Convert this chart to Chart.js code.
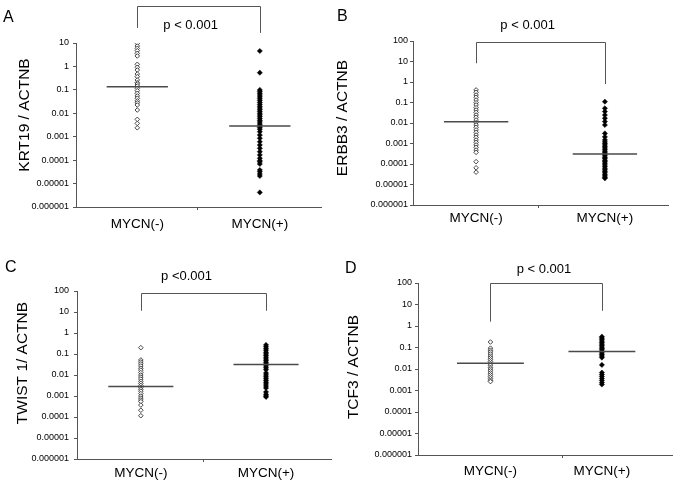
<!DOCTYPE html>
<html>
<head>
<meta charset="utf-8">
<script src="https://cdn.jsdelivr.net/npm/chart.js@4.4.0/dist/chart.umd.min.js"></script>
<style>
  body { margin: 0; background: #fff; width: 677px; height: 490px; position: relative; overflow: hidden; }
  canvas { position: absolute; }
</style>
</head>
<body>
<canvas id="panelA" width="326" height="245" style="left:0;top:0"></canvas>
<canvas id="panelB" width="351" height="245" style="left:326px;top:0"></canvas>
<canvas id="panelC" width="336" height="245" style="left:0;top:245px"></canvas>
<canvas id="panelD" width="341" height="245" style="left:336px;top:245px"></canvas>
<script>
const categories = ['MYCN(-)', 'MYCN(+)'];
const panelLetters = ['A', 'B', 'C', 'D'];
const yTitles = ['KRT19 / ACTNB', 'ERBB3 / ACTNB', 'TWIST 1/ ACTNB', 'TCF3 / ACTNB'];
const pLabels = ['p < 0.001', 'p < 0.001', 'p <0.001', 'p < 0.001'];

const yTicksTo10 = [0.000001, 0.00001, 0.0001, 0.001, 0.01, 0.1, 1, 10];
const yTicksTo100 = [0.000001, 0.00001, 0.0001, 0.001, 0.01, 0.1, 1, 10, 100];
const yTickLabels = ['0.000001', '0.00001', '0.0001', '0.001', '0.01', '0.1', '1', '10', '100'];

// KRT19 / ACTNB
const krt19Neg = [9.7, 7.4, 5.9, 4.7, 3.6, 2.8, 1.23, 0.92, 0.70, 0.475, 0.365, 0.264, 0.202, 0.178,
  0.146, 0.117, 0.092, 0.071, 0.055, 0.044, 0.034, 0.028, 0.0226, 0.0138, 0.0055, 0.0037, 0.0024];
const krt19Pos = [4.56, 0.54, 0.099, 0.085, 0.072, 0.06, 0.05, 0.042, 0.035, 0.029, 0.024, 0.02, 0.017,
  0.014, 0.012, 0.01, 0.0085, 0.0072, 0.006, 0.005, 0.0042, 0.0035, 0.003, 0.0025, 0.0021, 0.00164,
  0.00118, 0.00086, 0.00061, 0.00044, 0.00032, 0.00023, 0.000166, 0.00012, 0.000095, 0.000085,
  0.0000685, 0.000038, 0.000032, 0.0000256, 0.000021, 0.0000042];
const krt19Median = [0.135, 0.0029];

// ERBB3 / ACTNB
const erbb3Neg = [0.41, 0.315, 0.232, 0.18, 0.132, 0.098, 0.076, 0.056, 0.043, 0.033, 0.0245, 0.019,
  0.014, 0.0104, 0.008, 0.0062, 0.0046, 0.0035, 0.0026, 0.002, 0.00148, 0.00114, 0.00085, 0.00065,
  0.00048, 0.00037, 0.00013, 0.000065, 0.00004];
const erbb3Pos = [0.11, 0.052, 0.036, 0.0245, 0.017, 0.0117, 0.008, 0.0031, 0.0021, 0.0015, 0.0012,
  0.001, 0.00085, 0.0007, 0.0006, 0.0005, 0.00042, 0.00035, 0.0003, 0.00025, 0.00021, 0.00018,
  0.00015, 0.00013, 0.00011, 0.00009, 0.000075, 0.000062, 0.000052, 0.000044, 0.000037, 0.00003,
  0.000026, 0.000022, 0.00002];
const erbb3Median = [0.0116, 0.00031];

// TWIST1 / ACTNB
const twist1Neg = [0.2, 0.052, 0.042, 0.034, 0.027, 0.021, 0.017, 0.013, 0.01, 0.008, 0.0064, 0.005,
  0.004, 0.0032, 0.0026, 0.0021, 0.0017, 0.0013, 0.001, 0.0008, 0.00065, 0.00054, 0.00037, 0.00021,
  0.000115];
const twist1Pos = [0.27, 0.22, 0.18, 0.15, 0.12, 0.1, 0.085, 0.07, 0.058, 0.048, 0.04, 0.033, 0.027,
  0.022, 0.018, 0.0125, 0.01, 0.0082, 0.0067, 0.0055, 0.0045, 0.0037, 0.003, 0.0024, 0.00155, 0.0012,
  0.001, 0.0009];
const twist1Median = [0.0028, 0.032];

// TCF3 / ACTNB
const tcf3Neg = [0.18, 0.093, 0.075, 0.062, 0.05, 0.04, 0.033, 0.027, 0.022, 0.018, 0.015, 0.012, 0.01,
  0.0082, 0.0066, 0.0054, 0.0044, 0.0036, 0.003, 0.0026];
const tcf3Pos = [0.32, 0.28, 0.24, 0.2, 0.17, 0.145, 0.125, 0.105, 0.09, 0.077, 0.065, 0.055, 0.047,
  0.04, 0.034, 0.0155, 0.0068, 0.0055, 0.0045, 0.0036, 0.0029, 0.0023, 0.0019];
const tcf3Median = [0.0187, 0.065];

const FONT = '"Liberation Sans", Arial, sans-serif';

// draws letter, rotated axis title, significance bracket and middle x tick
const decor = {
  id: 'decor',
  afterDraw(chart, args, o) {
    const ctx = chart.ctx, xs = chart.scales.x, ys = chart.scales.y, area = chart.chartArea;
    ctx.save();
    ctx.fillStyle = '#000';
    ctx.font = '16px ' + FONT;
    ctx.textAlign = 'left';
    ctx.textBaseline = 'alphabetic';
    ctx.fillText(o.letter, o.letterX, o.letterY);

    ctx.save();
    ctx.translate(o.titleX, o.titleY);
    ctx.rotate(-Math.PI / 2);
    ctx.font = '15.5px ' + FONT;
    ctx.textAlign = 'center';
    ctx.textBaseline = 'middle';
    ctx.fillText(o.title, 0, 0);
    ctx.restore();

    const b = o.bracket;
    const x1 = Math.round(xs.getPixelForValue(1)) + 0.5, x2 = Math.round(xs.getPixelForValue(2)) + 0.5;
    const yt = Math.round(ys.getPixelForValue(b.top)) + 0.5;
    ctx.strokeStyle = '#555';
    ctx.lineWidth = 1;
    ctx.beginPath();
    ctx.moveTo(x1, ys.getPixelForValue(b.left));
    ctx.lineTo(x1, yt);
    ctx.lineTo(x2, yt);
    ctx.lineTo(x2, ys.getPixelForValue(b.right));
    ctx.stroke();

    ctx.font = '13px ' + FONT;
    ctx.textAlign = 'center';
    ctx.textBaseline = 'middle';
    ctx.fillText(o.p, xs.getPixelForValue(o.pX), ys.getPixelForValue(o.pY));

    const mx = Math.round(xs.getPixelForValue(o.midTick)) + 0.5;
    ctx.beginPath();
    ctx.moveTo(mx, area.bottom);
    ctx.lineTo(mx, area.bottom + 3);
    ctx.stroke();
    ctx.restore();
  }
};

function makePanel(id, p) {
  const medianLine = (cx, v) => ({
    type: 'line',
    data: [{ x: cx - p.half, y: v }, { x: cx + p.half, y: v }],
    borderColor: '#4a4a4a', borderWidth: 1.5, pointRadius: 0, order: 0
  });
  new Chart(document.getElementById(id), {
    type: 'scatter',
    data: {
      datasets: [
        medianLine(1, p.median[0]),
        medianLine(2, p.median[1]),
        {
          data: p.neg.map(v => ({ x: 1, y: v })),
          pointStyle: 'rectRot', pointRadius: 2.3, backgroundColor: '#fff',
          borderColor: '#333', borderWidth: 0.9, order: 1
        },
        {
          data: p.pos.map(v => ({ x: 2, y: v })),
          pointStyle: 'rectRot', pointRadius: 2.6, backgroundColor: '#000',
          borderColor: '#000', borderWidth: 0.5, order: 1
        }
      ]
    },
    options: {
      responsive: false,
      animation: false,
      devicePixelRatio: 1,
      layout: { padding: { top: p.top, right: p.right, left: 0, bottom: 0 } },
      plugins: {
        legend: { display: false },
        tooltip: { enabled: false },
        decor: p.decor
      },
      scales: {
        x: {
          type: 'linear', min: p.xMin, max: p.xMax,
          afterFit: s => { s.height = p.xH; },
          afterBuildTicks: s => { s.ticks = [{ value: 1 }, { value: 2 }]; },
          ticks: {
            callback: v => categories[v - 1],
            padding: p.xPad, color: '#000', maxRotation: 0, autoSkip: false,
            font: { family: FONT, size: 13.5 }
          },
          grid: { display: false, drawTicks: false },
          border: { color: '#555' }
        },
        y: {
          type: 'logarithmic', min: 0.000001, max: p.yTicks[p.yTicks.length - 1],
          afterFit: s => { s.width = p.left; },
          afterBuildTicks: s => { s.ticks = p.yTicks.map(v => ({ value: v })); },
          ticks: {
            callback: (v, i) => yTickLabels[i],
            padding: p.yPad, color: '#000', autoSkip: false,
            font: { family: FONT, size: 9 }
          },
          grid: { drawOnChartArea: false, tickLength: 3, color: '#555' },
          border: { color: '#555' }
        }
      }
    },
    plugins: [decor]
  });
}

makePanel('panelA', {
  neg: krt19Neg, pos: krt19Pos, median: krt19Median, yTicks: yTicksTo10,
  left: 76, right: 3, top: 43, xH: 38, xPad: 9, yPad: 4, xMin: 0.5, xMax: 2.5, half: 0.25,
  decor: { letter: panelLetters[0], letterX: 3, letterY: 22, title: yTitles[0], titleX: 25, titleY: 115,
    bracket: { top: 380, left: 44, right: 27 }, p: pLabels[0], pX: 1.435, pY: 59, midTick: 1.49 }
});
makePanel('panelB', {
  neg: erbb3Neg, pos: erbb3Pos, median: erbb3Median, yTicks: yTicksTo100,
  left: 87, right: 9, top: 41, xH: 40, xPad: 5, yPad: 2, xMin: 0.51, xMax: 2.49, half: 0.25,
  decor: { letter: panelLetters[1], letterX: 11, letterY: 21, title: yTitles[1], titleX: 17, titleY: 118,
    bracket: { top: 90, left: 8.2, right: 0.8 }, p: pLabels[1], pX: 1.40, pY: 600, midTick: 1.48 }
});
makePanel('panelC', {
  neg: twist1Neg, pos: twist1Pos, median: twist1Median, yTicks: yTicksTo100,
  left: 77, right: 4, top: 46, xH: 31, xPad: 6, yPad: 5, xMin: 0.49, xMax: 2.52, half: 0.26,
  decor: { letter: panelLetters[2], letterX: 5, letterY: 27, title: yTitles[2], titleX: 23, titleY: 118,
    bracket: { top: 77, left: 11.5, right: 11.5 }, p: pLabels[2], pX: 1.365, pY: 480, midTick: 1.5 }
});
makePanel('panelD', {
  neg: tcf3Neg, pos: tcf3Pos, median: tcf3Median, yTicks: yTicksTo100,
  left: 82, right: 4, top: 38, xH: 35, xPad: 8, yPad: 3, xMin: 0.35, xMax: 2.63, half: 0.3,
  decor: { letter: panelLetters[3], letterX: 9, letterY: 28, title: yTitles[3], titleX: 18, titleY: 122,
    bracket: { top: 100, left: 1.6, right: 5.1 }, p: pLabels[3], pX: 1.48, pY: 417, midTick: 1.64 }
});
</script>
</body>
</html>
